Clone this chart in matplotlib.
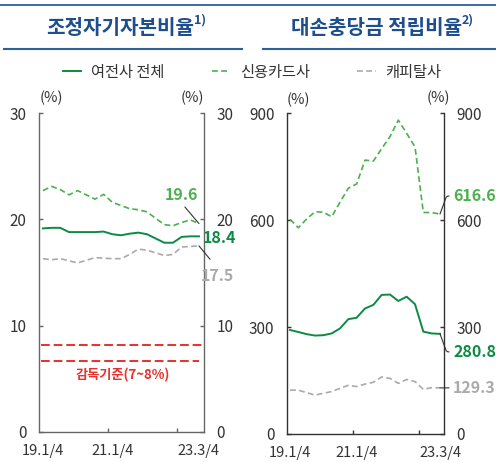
import matplotlib
matplotlib.use('Agg')
import matplotlib.pyplot as plt
from matplotlib.lines import Line2D

plt.rcParams['font.family'] = ['Noto Sans CJK KR', 'DejaVu Sans']

# quarters 19.1/4 ... 23.3/4
quarters = list(range(19))
xlabels = ['19.1/4', '21.1/4', '23.3/4']
xlabel_pos = [0, 8, 18]
year_ticks = [7.5, 15.5]

# 조정자기자본비율 (%)
cap_total = [19.15, 19.2, 19.2, 18.8, 18.8, 18.8, 18.8, 18.85, 18.6, 18.5,
             18.65, 18.75, 18.6, 18.2, 17.8, 17.8, 18.35, 18.4, 18.4]
cap_card = [22.7, 23.1, 22.8, 22.3, 22.7, 22.3, 21.9, 22.35, 21.6, 21.3,
            21.0, 20.9, 20.7, 20.1, 19.5, 19.4, 19.7, 19.95, 19.6]
cap_capital = [16.3, 16.2, 16.3, 16.1, 15.9, 16.15, 16.4, 16.35, 16.3, 16.3,
               16.7, 17.2, 17.1, 16.85, 16.6, 16.7, 17.4, 17.45, 17.5]
guide_lines = [8.2, 6.7]

# 대손충당금 적립비율 (%)
ll_total = [291.6, 286, 280, 276, 277, 282, 296, 322, 326, 352,
            362, 390, 391, 373, 385, 364, 287, 282, 280.8]
ll_card = [602, 578, 603, 623, 622, 609, 650, 689, 701, 768,
           765, 800, 834, 880, 843, 805, 621, 621, 616.6]
ll_capital = [123, 123, 116, 109, 114, 119, 128, 136.5, 133, 140,
              145, 160, 156, 142, 153, 147, 125, 130, 129.3]

c_total = '#0e8a43'
c_card = '#4cb050'
c_capital = '#aaaaaa'
c_red = '#e8302c'
c_blue = '#1f4e8c'
c_text = '#333333'

W, H = 496, 462
fig = plt.figure(figsize=(W / 100, H / 100), dpi=100)


def fx(px):
    return px / W


def fy(py):
    return 1 - py / H


def style_axis(ax, ylim, yticks, spine_color):
    ax.set_ylim(*ylim)
    ax.set_yticks(yticks)
    ax.spines['top'].set_visible(False)
    for s in ['left', 'right', 'bottom']:
        ax.spines[s].set_color(spine_color)
        ax.spines[s].set_linewidth(1.0)
    ax.tick_params(axis='y', direction='in', length=3, width=1, color=spine_color,
                   left=True, right=True, labelleft=True, labelright=True,
                   labelsize=11, labelcolor=c_text, pad=9)
    ax.set_xticks(xlabel_pos)
    ax.set_xticklabels(xlabels)
    ax.tick_params(axis='x', which='major', length=0, labelsize=10.5,
                   labelcolor=c_text, pad=9)
    ax.set_xticks(year_ticks, minor=True)
    ax.tick_params(axis='x', which='minor', direction='in', length=3,
                   width=1, color=spine_color)


# left chart
ax1 = fig.add_axes([fx(39), fy(432), fx(204 - 39), (432 - 113) / H])
ax1.set_xlim(-0.46, 18.58)
l1, = ax1.plot(quarters, cap_total, color=c_total, lw=1.4, label='여전사 전체')
l2, = ax1.plot(quarters, cap_card, color=c_card, lw=1.2, dashes=(3.5, 2),
               label='신용카드사')
l3, = ax1.plot(quarters, cap_capital, color=c_capital, lw=1.2, dashes=(3.5, 2),
               label='캐피탈사')
ax1.plot([-0.2, 18.3], [guide_lines[0]] * 2, color=c_red, lw=1.4, dashes=(4.5, 2))
ax1.plot([-0.2, 18.0], [guide_lines[1]] * 2, color=c_red, lw=1.4, dashes=(4.5, 2))
ax1.text(9.2, 5.4, '감독기준(7~8%)', color=c_red, fontsize=9.5,
         fontweight='bold', ha='center', va='center')
style_axis(ax1, (0, 30), [0, 10, 20, 30], '#666666')

ax1.annotate('19.6', xy=(18, cap_card[-1]), xytext=(-12.5, 20.5),
             textcoords='offset points', color=c_card, fontsize=11.5,
             fontweight='bold', ha='center', va='center',
             arrowprops=dict(arrowstyle='-', color='#333333', lw=0.8,
                             relpos=(0.5, 0), shrinkA=1, shrinkB=0),
             annotation_clip=False)
ax1.annotate('18.4', xy=(18, cap_total[-1]), xytext=(3, -1),
             textcoords='offset points', color=c_total, fontsize=11.5,
             fontweight='bold', ha='left', va='center', annotation_clip=False)
ax1.annotate('17.5', xy=(18, cap_capital[-1]), xytext=(13.5, -22),
             textcoords='offset points', color=c_capital, fontsize=11.5,
             fontweight='bold', ha='center', va='center',
             arrowprops=dict(arrowstyle='-', color='#333333', lw=0.8,
                             relpos=(0.5, 1), shrinkA=6, shrinkB=0),
             annotation_clip=False)

# right chart
ax2 = fig.add_axes([fx(287), fy(434), fx(444 - 287), (434 - 113) / H])
ax2.set_xlim(-0.36, 18.48)
ax2.plot(quarters, ll_total, color=c_total, lw=1.4)
ax2.plot(quarters, ll_card, color=c_card, lw=1.2, dashes=(3.5, 2))
ax2.plot(quarters, ll_capital, color=c_capital, lw=1.2, dashes=(3.5, 2))
style_axis(ax2, (0, 900), [0, 300, 600, 900], '#333333')

ax2.annotate('616.6', xy=(18, ll_card[-1]), xytext=(9.5, 13),
             textcoords='offset points', color=c_card, fontsize=11.5,
             fontweight='bold', ha='left', va='center',
             arrowprops=dict(arrowstyle='-', color='#333333', lw=0.8,
                             relpos=(0, 0.5), shrinkA=1, shrinkB=0,
                             connectionstyle='angle,angleA=180,angleB=70,rad=2'),
             annotation_clip=False)
ax2.annotate('280.8', xy=(18, ll_total[-1]), xytext=(9.5, -13),
             textcoords='offset points', color=c_total, fontsize=11.5,
             fontweight='bold', ha='left', va='center',
             arrowprops=dict(arrowstyle='-', color='#333333', lw=0.8,
                             relpos=(0, 0.5), shrinkA=1, shrinkB=0,
                             connectionstyle='angle,angleA=180,angleB=-70,rad=2'),
             annotation_clip=False)
ax2.annotate('129.3', xy=(18, ll_capital[-1]), xytext=(9.5, 0),
             textcoords='offset points', color=c_capital, fontsize=11.5,
             fontweight='bold', ha='left', va='center',
             arrowprops=dict(arrowstyle='-', color='#333333', lw=0.8,
                             relpos=(0, 0.5), shrinkA=1, shrinkB=0),
             annotation_clip=False)

# (%) unit labels
for px, py in [(51, 98), (192, 98), (298, 100), (438, 98)]:
    fig.text(fx(px), fy(py), '(%)', fontsize=10.5, color=c_text,
             ha='center', va='center')

# titles and rules
fig.add_artist(Line2D([0, 1], [fy(4.7)] * 2, color='#2e5f9e', lw=1.3))
fig.add_artist(Line2D([fx(4), fx(242)], [fy(49)] * 2, color='#2e5f9e', lw=1.5))
fig.add_artist(Line2D([fx(263), 1], [fy(49)] * 2, color='#2e5f9e', lw=1.5))
fig.text(fx(194), fy(27), '조정자기자본비율', fontsize=14.5, fontweight='bold',
         color=c_blue, ha='right', va='center')
fig.text(fx(194), fy(20), '1)', fontsize=9, fontweight='bold',
         color=c_blue, ha='left', va='center')
fig.text(fx(462), fy(27), '대손충당금 적립비율', fontsize=14.5, fontweight='bold',
         color=c_blue, ha='right', va='center')
fig.text(fx(462), fy(20), '2)', fontsize=9, fontweight='bold',
         color=c_blue, ha='left', va='center')

# legend
leg = fig.legend(handles=[l1, l2, l3], loc='center', bbox_to_anchor=(fx(252), fy(72)),
                 ncol=3, frameon=False, fontsize=11, handlelength=1.2,
                 handletextpad=0.65, columnspacing=3.1)
for t in leg.get_texts():
    t.set_color(c_text)

fig.savefig('out.png', dpi=100)
